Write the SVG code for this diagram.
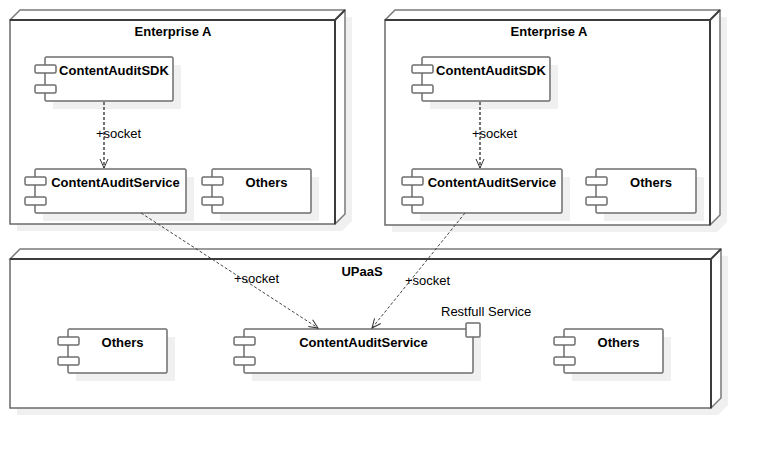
<svg xmlns="http://www.w3.org/2000/svg" width="762" height="450" viewBox="0 0 762 450">
<defs>
<style>
.shadow{fill:#f0f0f0;stroke:none}
.nodeback{fill:#fff;stroke:#7a7a7a;stroke-width:1.5}
.nodefront{fill:#fff;stroke:#6a6a6a;stroke-width:1.5}
.nodeedge{fill:none;stroke:#3c3c3c;stroke-width:2}
.comp{fill:#fff;stroke:#6e6e6e;stroke-width:1.5}
.title{font-family:"Liberation Sans",Arial,sans-serif;font-size:13px;font-weight:bold;fill:#000;text-anchor:middle}
.label{font-family:"Liberation Sans",Arial,sans-serif;font-size:13px;fill:#000}
.dep{fill:none;stroke:#444;stroke-width:1;stroke-dasharray:3,2}
.depv{fill:none;stroke:#666;stroke-width:1.8;stroke-dasharray:3,2}
</style>
<marker id="open" markerWidth="12" markerHeight="12" refX="10" refY="5" orient="auto" markerUnits="userSpaceOnUse" viewBox="0 0 12 10">
<path d="M1,1 L10,5 L1,9" fill="none" stroke="#333" stroke-width="1"/>
</marker>
</defs>
<rect width="762" height="450" fill="#fff"/>

<g id="enterpriseA1">
<path class="shadow" d="M17,27 L27,17 L352,17 L352,221 L342,231 L17,231 Z"/>
<path class="nodeback" d="M10,20 L20,10 L345,10 L345,214 L335,224 Z"/>
<rect class="nodefront" x="10" y="20" width="325" height="204"/>
<path class="nodeedge" d="M10,20 L335,20 L335,224 M335,20 L345,10"/>
<text class="title" x="173" y="36">Enterprise A</text>
</g>

<g id="enterpriseA2">
<path class="shadow" d="M392,27 L402,17 L727,17 L727,222 L717,232 L392,232 Z"/>
<path class="nodeback" d="M385,20 L395,10 L720,10 L720,215 L710,225 Z"/>
<rect class="nodefront" x="385" y="20" width="325" height="205"/>
<path class="nodeedge" d="M385,20 L710,20 L710,225 M710,20 L720,10"/>
<text class="title" x="549" y="36">Enterprise A</text>
</g>

<g id="upaas">
<path class="shadow" d="M17,266 L27,256 L728,256 L728,405 L718,415 L17,415 Z"/>
<path class="nodeback" d="M10,259 L20,249 L721,249 L721,398 L711,408 Z"/>
<rect class="nodefront" x="10" y="259" width="701" height="149"/>
<path class="nodeedge" d="M10,259 L711,259 L711,408 M711,259 L721,249"/>
<text class="title" x="362" y="276">UPaaS</text>
</g>

<g id="sdk1">
<rect class="shadow" x="53" y="65" width="128" height="44"/>
<rect class="comp" x="45" y="57" width="128" height="44" rx="1.5"/>
<rect class="comp" x="35" y="65" width="21" height="8" rx="1.5"/>
<rect class="comp" x="35" y="85" width="21" height="8" rx="1.5"/>
<text class="title" x="114" y="75">ContentAuditSDK</text>
</g>

<g id="service1">
<rect class="shadow" x="43" y="177" width="151" height="44"/>
<rect class="comp" x="35" y="169" width="151" height="44" rx="1.5"/>
<rect class="comp" x="25" y="177" width="21" height="8" rx="1.5"/>
<rect class="comp" x="25" y="197" width="21" height="8" rx="1.5"/>
<text class="title" x="115.5" y="187">ContentAuditService</text>
</g>

<g id="others1">
<rect class="shadow" x="220" y="177" width="99" height="44"/>
<rect class="comp" x="212" y="169" width="99" height="44" rx="1.5"/>
<rect class="comp" x="202" y="177" width="21" height="8" rx="1.5"/>
<rect class="comp" x="202" y="197" width="21" height="8" rx="1.5"/>
<text class="title" x="266.5" y="187">Others</text>
</g>

<g id="sdk2">
<rect class="shadow" x="430" y="65" width="128" height="44"/>
<rect class="comp" x="422" y="57" width="128" height="44" rx="1.5"/>
<rect class="comp" x="412" y="65" width="21" height="8" rx="1.5"/>
<rect class="comp" x="412" y="85" width="21" height="8" rx="1.5"/>
<text class="title" x="491" y="75">ContentAuditSDK</text>
</g>

<g id="service2">
<rect class="shadow" x="420" y="177" width="150" height="44"/>
<rect class="comp" x="412" y="169" width="150" height="44" rx="1.5"/>
<rect class="comp" x="402" y="177" width="21" height="8" rx="1.5"/>
<rect class="comp" x="402" y="197" width="21" height="8" rx="1.5"/>
<text class="title" x="492" y="187">ContentAuditService</text>
</g>

<g id="others2">
<rect class="shadow" x="604" y="177" width="100" height="44"/>
<rect class="comp" x="596" y="169" width="100" height="44" rx="1.5"/>
<rect class="comp" x="586" y="177" width="21" height="8" rx="1.5"/>
<rect class="comp" x="586" y="197" width="21" height="8" rx="1.5"/>
<text class="title" x="651" y="187">Others</text>
</g>

<g id="othersU1">
<rect class="shadow" x="76" y="337" width="99" height="44"/>
<rect class="comp" x="68" y="329" width="99" height="44" rx="1.5"/>
<rect class="comp" x="58" y="337" width="21" height="8" rx="1.5"/>
<rect class="comp" x="58" y="357" width="21" height="8" rx="1.5"/>
<text class="title" x="122.5" y="347">Others</text>
</g>

<g id="serviceU">
<rect class="shadow" x="252" y="337" width="229" height="44"/>
<rect class="comp" x="244" y="329" width="229" height="44" rx="1.5"/>
<rect class="comp" x="234" y="337" width="21" height="8" rx="1.5"/>
<rect class="comp" x="234" y="357" width="21" height="8" rx="1.5"/>
<text class="title" x="363.5" y="347">ContentAuditService</text>
<rect class="comp" x="466" y="323" width="14" height="14" rx="1"/>
<text class="label" x="441" y="316">Restfull Service</text>
</g>

<g id="othersU2">
<rect class="shadow" x="572" y="337" width="99" height="44"/>
<rect class="comp" x="564" y="329" width="99" height="44" rx="1.5"/>
<rect class="comp" x="554" y="337" width="21" height="8" rx="1.5"/>
<rect class="comp" x="554" y="357" width="21" height="8" rx="1.5"/>
<text class="title" x="618.5" y="347">Others</text>
</g>

<g id="connectors">
<path class="depv" d="M104,102 L104,168" marker-end="url(#open)"/>
<text class="label" x="96" y="138">+socket</text>
<path class="depv" d="M480,102 L480,168" marker-end="url(#open)"/>
<text class="label" x="472" y="138">+socket</text>
<path class="dep" d="M141,213 L318,328" marker-end="url(#open)"/>
<text class="label" x="234" y="283">+socket</text>
<path class="dep" d="M465,213 L372,328" marker-end="url(#open)"/>
<text class="label" x="405" y="285">+socket</text>
</g>
</svg>
